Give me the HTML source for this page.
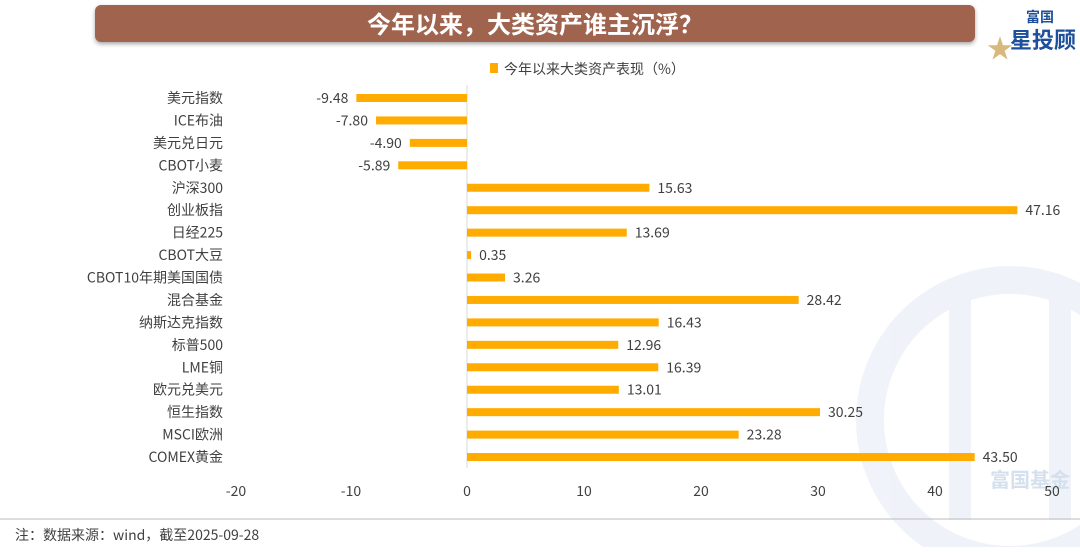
<!DOCTYPE html>
<html><head><meta charset="utf-8"><style>
body{margin:0;width:1080px;height:547px;background:#fff;overflow:hidden}
</style></head><body>
<svg width="1080" height="547" xmlns="http://www.w3.org/2000/svg" font-family="Noto Sans CJK SC, Liberation Sans, sans-serif">
<defs><filter id="sh" x="-5%" y="-30%" width="110%" height="160%"><feDropShadow dx="0" dy="2" stdDeviation="2" flood-color="#000" flood-opacity="0.35"/></filter></defs>
<g opacity="0.22">
<circle cx="1010" cy="420" r="140" fill="none" stroke="#b9cde6" stroke-width="28"/>
<path d="M960 300 L960 520 M1060 300 L1060 520" stroke="#b9cde6" stroke-width="22"/>
</g>
<text x="1030" y="487" font-size="20" fill="#d5e0ee" text-anchor="middle" font-weight="bold">富国基金</text>
<rect x="95" y="5" width="880" height="37" rx="6" fill="#A0634E" filter="url(#sh)"/>
<text x="535" y="33" font-size="24" font-weight="bold" fill="#fff" text-anchor="middle">今年以来，大类资产谁主沉浮？</text>
<text x="1000" y="58" font-size="26" font-weight="bold" fill="#d8b97c" text-anchor="middle">★</text>
<text x="1040" y="22" font-size="14" font-weight="bold" fill="#1d4f9a" text-anchor="middle">富国</text>
<text x="1043" y="48" font-size="22" font-weight="bold" fill="#1d4f9a" text-anchor="middle">星投顾</text>
<rect x="490" y="63" width="8" height="10" fill="#FFAB00"/>
<text x="504" y="74" font-size="14" fill="#404040">今年以来大类资产表现（%）</text>
<line x1="467" y1="85" x2="467" y2="468" stroke="#d9d9d9"/>
<g id="bars" font-size="14" fill="#404040"></g>
<g font-size="14" fill="#404040" text-anchor="middle">
<text x="236" y="496">-20</text><text x="351" y="496">-10</text><text x="467" y="496">0</text><text x="584" y="496">10</text><text x="701" y="496">20</text><text x="818" y="496">30</text><text x="935" y="496">40</text><text x="1052" y="496">50</text>
</g>
<line x1="0" y1="519" x2="1080" y2="519" stroke="#bbb"/>
<text x="15" y="540" font-size="14" fill="#404040">注：数据来源：wind，截至2025-09-28</text>
</svg>
<script>
var d=[["美元指数",-9.48],["ICE布油",-7.80],["美元兑日元",-4.90],["CBOT小麦",-5.89],["沪深300",15.63],["创业板指",47.16],["日经225",13.69],["CBOT大豆",0.35],["CBOT10年期美国国债",3.26],["混合基金",28.42],["纳斯达克指数",16.43],["标普500",12.96],["LME铜",16.39],["欧元兑美元",13.01],["恒生指数",30.25],["MSCI欧洲",23.28],["COMEX黄金",43.50]];
var g=document.getElementById('bars'),s='',k=11.67,z=467;
d.forEach(function(r,i){var y=98+i*22.44,v=r[1],w=Math.abs(v)*k,x=v<0?z-w:z;
s+='<rect x="'+x+'" y="'+(y-4)+'" width="'+w+'" height="8" fill="#FFAB00"/>';
s+='<text x="223" y="'+(y+5)+'" text-anchor="end">'+r[0]+'</text>';
if(v<0)s+='<text x="'+(x-8)+'" y="'+(y+5)+'" text-anchor="end">'+v.toFixed(2)+'</text>';
else s+='<text x="'+(x+w+8)+'" y="'+(y+5)+'">'+v.toFixed(2)+'</text>';});
g.innerHTML=s;
</script>
</body></html>
